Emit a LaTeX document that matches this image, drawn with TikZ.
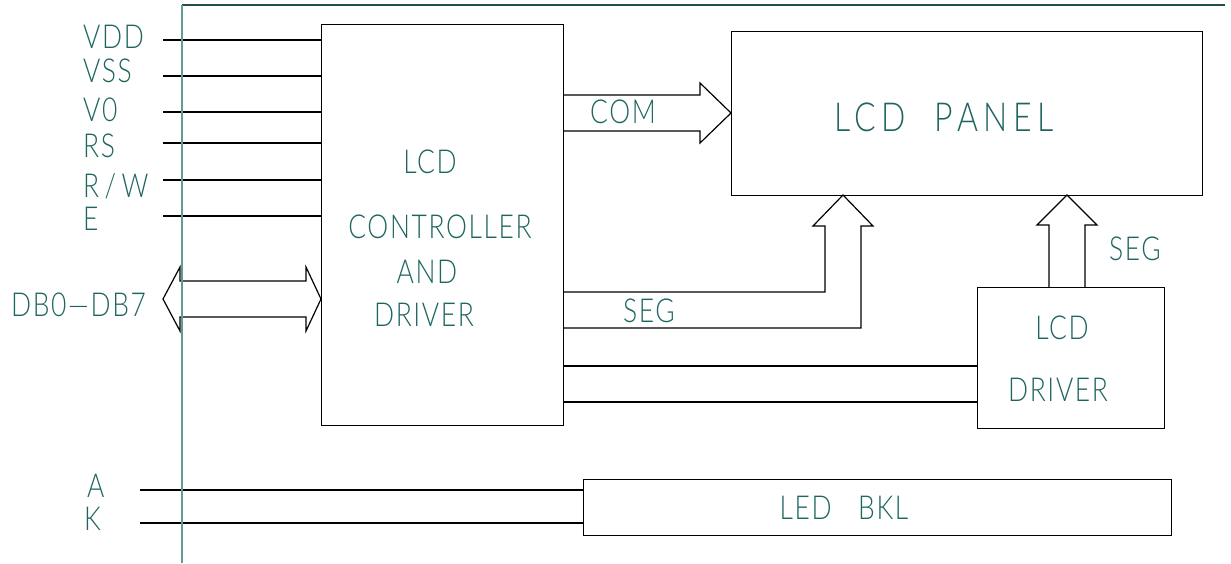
\documentclass[tikz,border=0pt]{standalone}
\usepackage{fontspec}
\setmainfont{Lato}[UprightFont=* Light, FakeStretch=0.8, LetterSpace=5]
\usepackage{tikz}
\usetikzlibrary{positioning,calc}
\definecolor{txtteal}{HTML}{1E6560}
\definecolor{frameteal}{HTML}{5E9C98}
\definecolor{topteal}{HTML}{1E5050}

\begin{document}
\begin{tikzpicture}[x=1pt,y=-1pt,
    blk/.style={draw, line width=1.2pt, anchor=north west, inner sep=0pt},
    lbl/.style={text=txtteal, font=\fontsize{33}{33}\selectfont, inner sep=0pt, text depth=0pt},
    wire/.style={line width=1.2pt},
    bus/.style={line width=1.2pt, line join=miter}]
    \useasboundingbox (0,0) rectangle (1231,563);

    % Blocks
    \node[blk, minimum width=242pt, minimum height=401pt] (ctrl) at (321,24) {};
    \node[blk, minimum width=471pt, minimum height=164pt] (panel) at (731,31) {};
    \node[blk, minimum width=187pt, minimum height=141pt] (drv) at (977,287) {};
    \node[blk, minimum width=588pt, minimum height=56pt] (bkl) at (583,479) {};

    % Block texts
    \node[lbl] (ctrlA) at (430,162) {LCD};
    \node[lbl] (ctrlB) at (440,227) {CONTROLLER};
    \node[lbl] (ctrlC) at (427,272) {AND};
    \node[lbl] (ctrlD) at (424,315) {DRIVER};
    \node[lbl, font=\fontsize{40}{40}\selectfont\addfontfeature{LetterSpace=14}] (panelT) at (944,117) {LCD\ \ PANEL};
    \node[lbl] (drvA) at (1062,328) {LCD};
    \node[lbl] (drvB) at (1058,390) {DRIVER};
    \node[lbl] (bklT) at (844,508) {LED\ \ \ BKL};

    % Pin labels and wires
    \foreach \n/\t/\ly/\y in {vdd/VDD/37/40, vss/VSS/71/76, vo/V0/110/112,
                             rs/RS/146/143, rw/{R\,/\,W}/185/180, en/E/219/216} {
        \node[lbl, anchor=west] (\n T) at (83,\ly) {\t};
        \coordinate (\n) at (163,\y);
        \draw[wire] (\n) -- (\n -| ctrl.west);
    }
    \node[lbl, anchor=west] (aT) at (87,486) {A};
    \node[lbl, anchor=west] (kT) at (84,519) {K};
    \coordinate (pinA) at (140,490);
    \coordinate (pinK) at (140,523);
    \draw[wire] (pinA) -- (pinA -| bkl.west);
    \draw[wire] (pinK) -- (pinK -| bkl.west);

    % Data bus
    \node[lbl, anchor=west] (dbT) at (11,305) {DB0---DB7};
    \draw[bus] (163,299) -- (180,267) -- (180,281) -- (306,281) -- (306,267)
        -- (321,299) -- (306,331) -- (306,317) -- (180,317) -- (180,331) -- cycle;

    % COM bus
    \coordinate (comTip) at (731,113);
    \draw[bus] (563,95) -- (700,95) -- (700,83) -- (comTip)
        -- (700,143) -- (700,131) -- (563,131);
    \node[lbl] (comT) at (623,112) {COM};

    % SEG bus to panel
    \draw[bus] (563,292) -- (825,292) -- (825,226) -- (813,226) -- (843,195)
        -- (873,226) -- (861,226) -- (861,328) -- (563,328);
    \node[lbl] (segT) at (649,311) {SEG};

    % SEG bus from driver
    \draw[bus] (1049,287) -- (1049,225) -- (1037,225) -- (1067,195)
        -- (1097,225) -- (1085,225) -- (1085,287);
    \node[lbl] (segR) at (1135,249) {SEG};

    % Lines to driver
    \coordinate (d1) at (563,366);
    \coordinate (d2) at (563,402);
    \draw[wire] (d1) -- (d1 -| drv.west);
    \draw[wire] (d2) -- (d2 -| drv.west);

    % Frame
    \draw[topteal, line width=1.2pt] (182,5) -- (1225,5);
    \draw[frameteal, line width=1.8pt] (182,5) -- (182,563);
\end{tikzpicture}
\end{document}
